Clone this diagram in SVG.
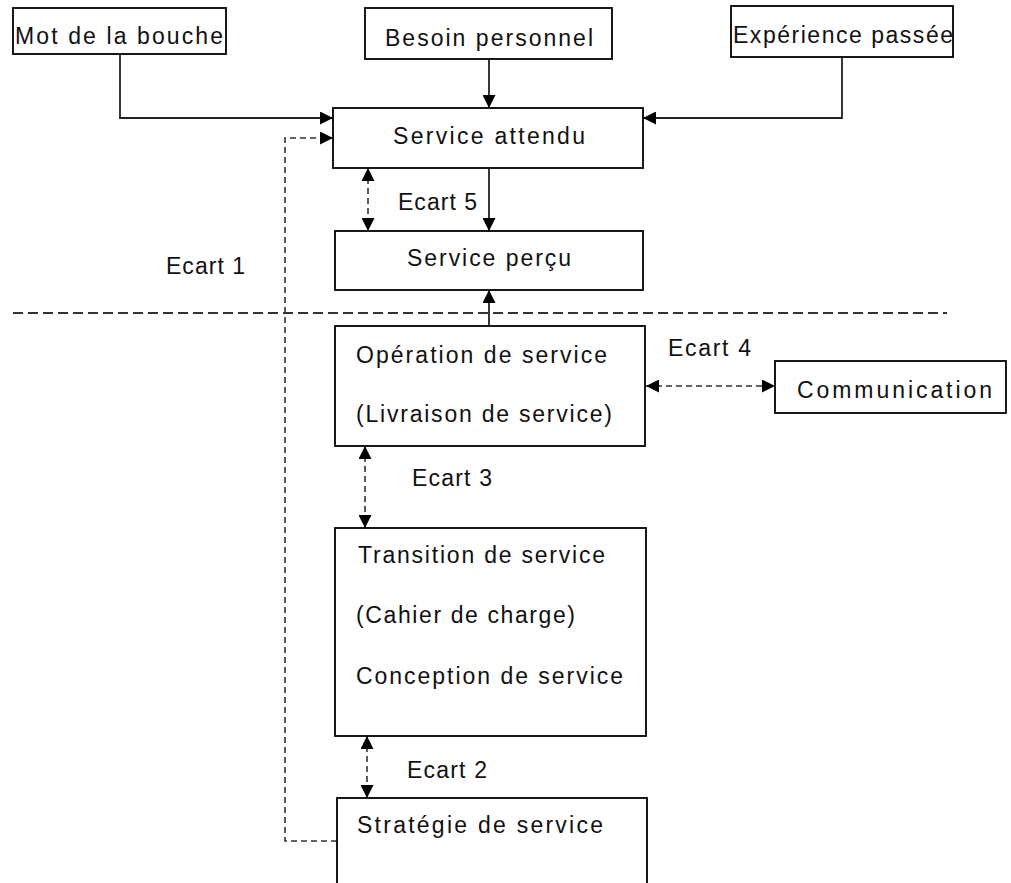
<svg xmlns="http://www.w3.org/2000/svg" width="1011" height="883" viewBox="0 0 1011 883">
<defs>
<style>
.box{fill:#fff;stroke:#000;stroke-width:1.8}
.t{font-family:"Liberation Sans",Arial,sans-serif;font-size:23px;fill:#111}
.ln{fill:none;stroke:#222;stroke-width:1.8}
.dl{fill:none;stroke:#333;stroke-width:1.6;stroke-dasharray:6,4}
.sep{fill:none;stroke:#333;stroke-width:2;stroke-dasharray:10,5}
</style>
<marker id="ah" viewBox="0 0 12 12" refX="12" refY="6" markerWidth="13" markerHeight="13" markerUnits="userSpaceOnUse" orient="auto-start-reverse">
<path d="M0,0 L12,6 L0,12 Z" fill="#000"/>
</marker>
</defs>
<rect width="1011" height="883" fill="#fff"/>

<g id="connectors">
<path class="ln" d="M120,54 V118 H333" marker-end="url(#ah)"/>
<path class="ln" d="M842,57 V118 H643" marker-end="url(#ah)"/>
<path class="ln" d="M489,59 V108" marker-end="url(#ah)"/>
<path class="ln" d="M489,168 V231" marker-end="url(#ah)"/>
<path class="ln" d="M489,326 V290" marker-end="url(#ah)"/>
<path class="dl" d="M368,168 V231" marker-start="url(#ah)" marker-end="url(#ah)"/>
<path class="dl" d="M365,446 V528" marker-start="url(#ah)" marker-end="url(#ah)"/>
<path class="dl" d="M367,736 V798" marker-start="url(#ah)" marker-end="url(#ah)"/>
<path class="dl" d="M646,386 H775" marker-start="url(#ah)" marker-end="url(#ah)"/>
<path class="dl" d="M337,841 H285 V138 H333" marker-end="url(#ah)"/>
<path class="sep" d="M13,313 H947"/>
</g>

<g id="labels">
<text class="t" x="166" y="274" textLength="79" lengthAdjust="spacing">Ecart 1</text>
<text class="t" x="398" y="210" textLength="79" lengthAdjust="spacing">Ecart 5</text>
<text class="t" x="668" y="356" textLength="83" lengthAdjust="spacing">Ecart 4</text>
<text class="t" x="412" y="486" textLength="80" lengthAdjust="spacing">Ecart 3</text>
<text class="t" x="407" y="778" textLength="80" lengthAdjust="spacing">Ecart 2</text>
</g>

<g id="mot">
<rect class="box" x="13" y="8" width="213" height="46"/>
<text class="t" x="15" y="44" textLength="208" lengthAdjust="spacing">Mot de la bouche</text>
</g>
<g id="besoin">
<rect class="box" x="365" y="8" width="247" height="51"/>
<text class="t" x="385" y="46" textLength="208" lengthAdjust="spacing">Besoin personnel</text>
</g>
<g id="experience">
<rect class="box" x="731" y="6" width="222" height="51"/>
<text class="t" x="733" y="43" textLength="220" lengthAdjust="spacing">Expérience passée</text>
</g>
<g id="attendu">
<rect class="box" x="333" y="108" width="310" height="60"/>
<text class="t" x="393" y="144" textLength="192" lengthAdjust="spacing">Service attendu</text>
</g>
<g id="percu">
<rect class="box" x="335" y="231" width="308" height="59"/>
<text class="t" x="407" y="266" textLength="164" lengthAdjust="spacing">Service perçu</text>
</g>
<g id="operation">
<rect class="box" x="335" y="326" width="310" height="120"/>
<text class="t" x="356" y="363" textLength="251" lengthAdjust="spacing">Opération de service</text>
<text class="t" x="356" y="422" textLength="256" lengthAdjust="spacing">(Livraison de service)</text>
</g>
<g id="communication">
<rect class="box" x="775" y="361" width="231" height="52"/>
<text class="t" x="797" y="398" textLength="195" lengthAdjust="spacing">Communication</text>
</g>
<g id="transition">
<rect class="box" x="335" y="528" width="311" height="208"/>
<text class="t" x="358" y="563" textLength="247" lengthAdjust="spacing">Transition de service</text>
<text class="t" x="356" y="623" textLength="219" lengthAdjust="spacing">(Cahier de charge)</text>
<text class="t" x="356" y="684" textLength="267" lengthAdjust="spacing">Conception de service</text>
</g>
<g id="strategie">
<rect class="box" x="337" y="798" width="310" height="110"/>
<text class="t" x="357" y="833" textLength="246" lengthAdjust="spacing">Stratégie de service</text>
</g>
</svg>
